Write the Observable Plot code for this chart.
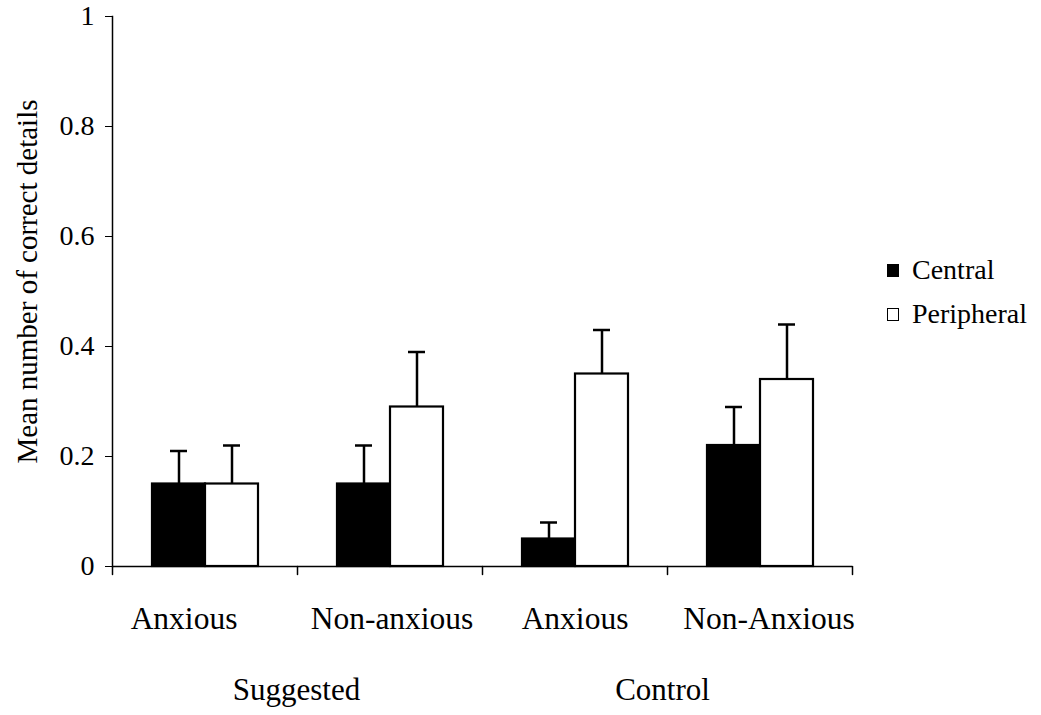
<!DOCTYPE html>
<html>
<head>
<meta charset="utf-8">
<script src="https://cdn.jsdelivr.net/npm/d3@7"></script>
<script src="https://cdn.jsdelivr.net/npm/@observablehq/plot@0.6"></script>
<style>
  html, body { margin: 0; padding: 0; background: #fff; }
  #wrap { position: relative; width: 1041px; height: 715px; font-family: "Liberation Serif", "Times New Roman", serif; }
  #legend { position: absolute; left: 887px; top: 248px; font-size: 28px; color: #000; }
  .item { display: flex; align-items: center; height: 44px; }
  .sw { width: 10px; height: 11px; border: 1.5px solid #000; margin-right: 13px; }
</style>
</head>
<body>
<div id="wrap"></div>
<script>
// ---- data ----
const groupKeys = ["S-Anxious", "S-Non-anxious", "C-Anxious", "C-Non-Anxious"];
const groupLabels = ["Anxious", "Non-anxious", "Anxious", "Non-Anxious"];
const conditionLabels = ["Suggested", "Control"];
const seriesNames = ["Central", "Peripheral"];
const seriesFills = ["#000000", "#ffffff"];
const centralMeans = [0.15, 0.15, 0.05, 0.22];
const centralUpper = [0.21, 0.22, 0.08, 0.29];
const peripheralMeans = [0.15, 0.29, 0.35, 0.34];
const peripheralUpper = [0.22, 0.39, 0.43, 0.44];
const yTicks = [0, 0.2, 0.4, 0.6, 0.8, 1];
const yLabel = "Mean number of correct details";

// ---- layout (label nudges, in pixels) ----
const groupLabelShift = [-21, 2, 0, 9];

const rows = [];
groupKeys.forEach((g, i) => {
  rows.push({group: g, series: "Central", value: centralMeans[i], upper: centralUpper[i]});
  rows.push({group: g, series: "Peripheral", value: peripheralMeans[i], upper: peripheralUpper[i]});
});
const labelOf = new Map(groupKeys.map((g, i) => [g, groupLabels[i]]));
const tickShape = {draw(context, l) { context.moveTo(0, 0); context.lineTo(0, -l); }};

const chart = Plot.plot({
  width: 1041,
  height: 715,
  marginLeft: 110,
  marginRight: 188,
  marginTop: 16,
  marginBottom: 149,
  style: {fontFamily: "Liberation Serif", fontSize: "28px", color: "#000", background: "#fff"},
  fx: {domain: groupKeys, padding: 0, axis: null},
  x: {domain: seriesNames, paddingInner: 0, paddingOuter: 0.72, axis: null},
  y: {domain: [0, 1], axis: null},
  color: {domain: seriesNames, range: seriesFills},
  marks: [
    Plot.barY(rows, {fx: "group", x: "series", y: "value", fill: "series", stroke: "#000", strokeWidth: 2.2}),
    Plot.ruleX(rows, {fx: "group", x: "series", y1: "value", y2: "upper", stroke: "#000", strokeWidth: 2.5}),
    Plot.tickY(rows, {fx: "group", x: "series", y: "upper", stroke: "#000", strokeWidth: 2.5, insetLeft: 18, insetRight: 18}),
    Plot.ruleY([0], {stroke: "#000", strokeWidth: 1.5}),
    Plot.frame({anchor: "left", facetAnchor: "left", stroke: "#000", strokeWidth: 1.5}),
    Plot.vector([0], {frameAnchor: "bottom-left", length: 8, rotate: 180, anchor: "start", shape: tickShape, stroke: "#000", strokeWidth: 1.5}),
    Plot.vector([0], {frameAnchor: "bottom-right", length: 8, rotate: 180, anchor: "start", shape: tickShape, stroke: "#000", strokeWidth: 1.5, facetAnchor: "right"}),
    Plot.axisY(yTicks, {
      anchor: "left", tickSize: 7, tickPadding: 11, fontSize: 28,
      tickFormat: d => d3.format("~g")(d), label: null
    }),
    Plot.text([yLabel], {text: d => d, frameAnchor: "left", facetAnchor: "left", rotate: -90,
      textAnchor: "middle", lineAnchor: "middle", dx: -85, dy: -10, fontSize: 29}),
    ...groupKeys.map((g, i) => Plot.text([g], {
      fx: d => d, text: d => labelOf.get(d), frameAnchor: "bottom",
      textAnchor: "middle", lineAnchor: "top", dy: 40, dx: groupLabelShift[i], fontSize: 31.5
    })),
    Plot.text([conditionLabels[0]], {fx: [groupKeys[1]], text: d => d, frameAnchor: "bottom-left", textAnchor: "middle", lineAnchor: "middle", dy: 124, dx: -1, fontSize: 31}),
    Plot.text([conditionLabels[1]], {fx: [groupKeys[3]], text: d => d, frameAnchor: "bottom-left", textAnchor: "middle", lineAnchor: "middle", dy: 124, dx: -5, fontSize: 31})
  ]
});
document.getElementById("wrap").appendChild(chart);

const legend = document.createElement("div");
legend.id = "legend";
seriesNames.forEach((s, i) => {
  const it = document.createElement("div");
  it.className = "item";
  const sw = document.createElement("div");
  sw.className = "sw";
  sw.style.background = seriesFills[i];
  const t = document.createElement("span");
  t.textContent = s;
  it.appendChild(sw); it.appendChild(t);
  legend.appendChild(it);
});
document.getElementById("wrap").appendChild(legend);
</script>
</body>
</html>
